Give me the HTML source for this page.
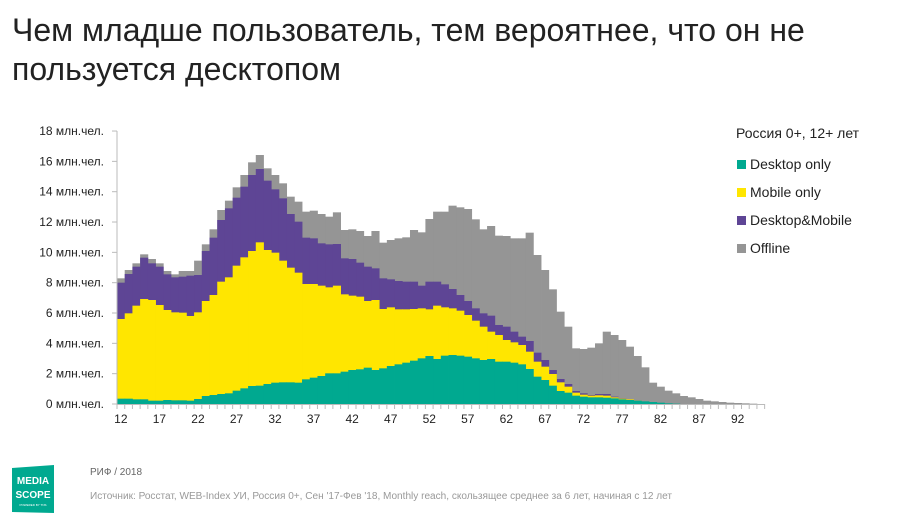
<!DOCTYPE html>
<html><head><meta charset="utf-8"><style>
body{margin:0;background:#fff;width:909px;height:518px;overflow:hidden;font-family:"Liberation Sans",sans-serif}
</style></head><body>
<svg id="s" width="909" height="518" xmlns="http://www.w3.org/2000/svg" font-family="Liberation Sans, sans-serif">
<text x="12" y="41" font-size="32" fill="#222">Чем младше пользователь, тем вероятнее, что он не</text>
<text x="12" y="80" font-size="32" fill="#222">пользуется десктопом</text>
<g id="bars"></g>
<g id="axes" stroke="#bbb" stroke-width="1" fill="none"></g>
<g id="lab" font-size="12" fill="#222"></g>
<text x="736" y="138" font-size="14" fill="#222">Россия 0+, 12+ лет</text>
<rect x="737" y="160" width="9" height="9" fill="#00A990"/><text x="750" y="169" font-size="14" fill="#222">Desktop only</text>
<rect x="737" y="188" width="9" height="9" fill="#FFE600"/><text x="750" y="197" font-size="14" fill="#222">Mobile only</text>
<rect x="737" y="216" width="9" height="9" fill="#5E4595"/><text x="750" y="225" font-size="14" fill="#222">Desktop&amp;Mobile</text>
<rect x="737" y="244" width="9" height="9" fill="#959595"/><text x="750" y="253" font-size="14" fill="#222">Offline</text>
<polygon points="12,468 54,465 54,513 12,512" fill="#00A990"/>
<text x="33" y="484" font-size="10" fill="#fff" text-anchor="middle" font-weight="bold">MEDIA</text>
<text x="33" y="498" font-size="10" fill="#fff" text-anchor="middle" font-weight="bold">SCOPE</text>
<text x="33" y="506" font-size="3" fill="#fff" text-anchor="middle">POWERED BY TNS</text>
<text x="90" y="475" font-size="10" fill="#666">РИФ / 2018</text>
<text x="90" y="499" font-size="10" fill="#999" textLength="582" lengthAdjust="spacingAndGlyphs">Источник: Росстат, WEB-Index УИ, Россия 0+, Сен '17-Фев '18, Monthly reach, скользящее среднее за 6 лет, начиная с 12 лет</text>
</svg>
<script>
var z1t=[415,390,370,343,357,370,393,403,393,393,362,313,268,210,182,142,105,67,45,85,105,130,170,185,215,212,222,230,217,270,268,273,288,273,308,300,295,292,270,277,237];
var z1p=[428,402,380,353,370,380,403,412,410,407,405,333,293,240,205,173,140,105,87,122,148,175,222,245,293,295,310,313,312,355,357,368,380,385,415,418,423,425,425,437,425];
var z1y=[537,520,497,477,480,495,510,517,518,528,517,483,465,425,412,377,352,333,307,330,338,362,383,398,432,432,437,442,437,463,467,470,483,480,507,502,508,508,507,505,508];
var z1g=[776,776,778,778,782,782,780,781,781,782,777,768,765,762,760,752,745,738,737,732,728,727,727,728,718,713,708,700,700,695,690,688,683,690,685,678,673,668,662,655,648];
var z2t=[65,65,47,52,57,88,118,108,137,138,145,145,128,195,240,298,365,410,475,477,473,460,425,435,450,470,498,532,578,590,602,610,618,622,627,632,634,636,638,639,640,641,642];
var z2p=[275,283,297,315,333,355,370,377,405,410,425,440,453,488,510,540,567,582,603,610,615,612,612,620,625,628,632,635,638,640,641,642];
var z2y=[347,352,355,362,375,392,410,425,435,450,457,465,485,515,530,552,577,590,608,614,617,616,617,622,626,628,632,635,638,640,641,642];
var z2g=[507,497,495,497,500,505,510,507,515,515,518,523,537,560,570,587,603,608,617,620,622,622,623,625,628,630,632,634,636,638,640,641,642];
function arr(a,b){var r=a.map(function(v){return 140+v/3});b.forEach(function(v){r.push(190+v/3)});while(r.length<84)r.push(404);return r}
var T=arr(z1t,z2t),P=arr(z1p,z2p),Y=arr(z1y,z2y),G=arr(z1g,z2g);
var ns="http://www.w3.org/2000/svg",bars=document.getElementById("bars"),bw=7.71,x0=117;
function lay(A,c){for(var i=0;i<84;i++){var y=Math.min(A[i],404);y=Math.max(y,T[i]);if(y>=404)continue;var r=document.createElementNS(ns,"rect");r.setAttribute("x",x0+i*bw);r.setAttribute("width",bw+0.4);r.setAttribute("y",y);r.setAttribute("height",404-y);r.setAttribute("fill",c);bars.appendChild(r)}}
lay(T,"#959595");lay(P,"#5E4595");lay(Y,"#FFE600");lay(G,"#00A990");
var ax=document.getElementById("axes"),lab=document.getElementById("lab"),h="";
h+='<line x1="117" y1="131" x2="117" y2="404"/><line x1="117" y1="404.5" x2="765" y2="404.5"/>';
for(var k=0;k<=9;k++){var y=404-k*30.33;h+='<line x1="112" y1="'+y+'" x2="117" y2="'+y+'"/>';}
for(var i=0;i<=84;i++){var x=x0+i*bw;h+='<line x1="'+x+'" y1="404" x2="'+x+'" y2="409"/>';}
ax.innerHTML=h;var l="";
for(var k=0;k<=9;k++){var y=404-k*30.33+4;l+='<text x="104" y="'+y+'" text-anchor="end">'+(2*k)+' млн.чел.</text>';}
for(var a=12;a<=92;a+=5){var x=x0+(a-12)*bw+bw/2;l+='<text x="'+x+'" y="423" text-anchor="middle">'+a+'</text>';}
lab.innerHTML=l;
</script>
</body></html>
